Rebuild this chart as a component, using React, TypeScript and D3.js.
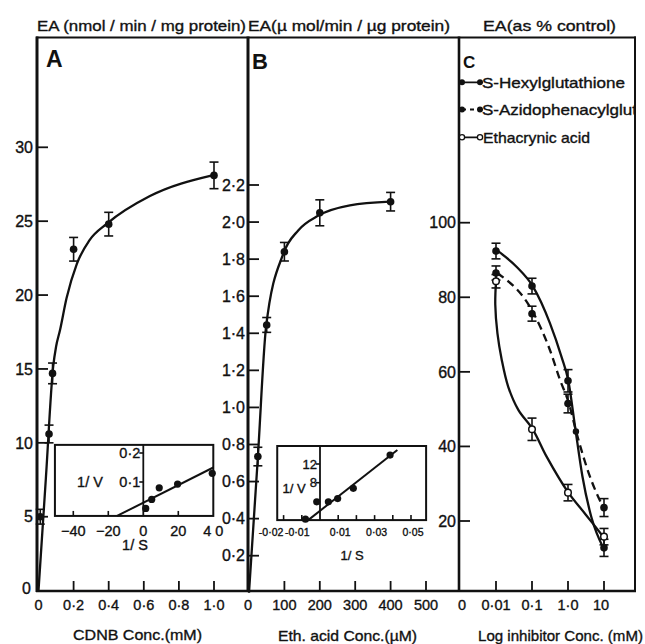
import React from "react";
import * as d3 from "d3";

const FONT = "'Liberation Sans', Arial, Helvetica, sans-serif";

// ---------- Panel A : CDNB ----------
const aConc = [0.01, 0.06, 0.08, 0.2, 0.4, 1.0];
const aActivity = [5.0, 10.6, 14.7, 23.1, 24.8, 28.1];
const aError = [0.5, 0.6, 0.7, 0.8, 0.8, 0.9];
const aCurveX = [0, 0.042, 0.084, 0.1, 0.122, 0.16, 0.218, 0.29, 0.392, 0.635, 0.99];
const aCurveY = [0, 7.6, 15.2, 16.5, 17.6, 19.8, 22.1, 23.7, 24.85, 26.7, 28.1];
const aTicksX = [0, 0.2, 0.4, 0.6, 0.8, 1.0];
const aTickLabelsX = ["0", "0·2", "0·4", "0·6", "0·8", "1·0"];
const aTicksY = [0, 5, 10, 15, 20, 25, 30];

// inset A (Lineweaver-Burk)
const iaInvS = [1.4, 4.8, 9.1, 19.6, 39.4];
const iaInvV = [0.009, 0.04, 0.08, 0.093, 0.13];
const iaFitX = [-15, 40];
const iaFitY = [-0.017, 0.15];
const iaDomX = [-50.5, 40];
const iaDomY = [-0.017, 0.228];
const iaTicksX = [-40, -20, 0, 20, 40];
const iaTickLabelsX = ["−40", "−20", "0", "20", "4 0"];
const iaTicksY = [0.1, 0.2];
const iaTickLabelsY = ["0·1", "0·2"];

// ---------- Panel B : ethacrynic acid ----------
const bConc = [25, 50, 100, 200, 400];
const bActivity = [0.735, 1.445, 1.84, 2.05, 2.11];
const bError = [0.05, 0.04, 0.05, 0.07, 0.05];
const bCurveX = [0, 25, 48, 97, 139, 196, 285, 398];
const bCurveY = [0, 0.73, 1.43, 1.83, 1.955, 2.035, 2.09, 2.11];
const bTicksX = [0, 100, 200, 300, 400, 500];
const bTicksY = [0.2, 0.4, 0.6, 0.8, 1.0, 1.2, 1.4, 1.6, 1.8, 2.0, 2.2];
const bTickLabelsY = ["0·2", "0·4", "0·6", "0·8", "1·0", "1·2", "1·4", "1·6", "1·8", "2·0", "2·2"];

// inset B
const ibInvS = [-0.008, -0.0018, 0.0046, 0.0097, 0.0183, 0.0385];
const ibInvV = [0.2, 3.9, 3.9, 4.6, 6.8, 13.9];
const ibFitX = [-0.0065, 0.0425];
const ibFitY = [0, 15];
const ibDomX = [-0.0235, 0.0583];
const ibDomY = [0, 15.85];
const ibTicksX = [-0.02, -0.01, 0.01, 0.02, 0.03, 0.04, 0.05];
const ibLabelTicksX = [-0.02, -0.01, 0.01, 0.03, 0.05];
const ibTickLabelsX = ["-0·02", "-0·01", "0·01", "0·03", "0·05"];
const ibTicksY = [8, 12];

// ---------- Panel C : inhibitors ----------
const cLogConc = [-2, -1, 0, 1];
const cTickLabelsX = ["0·01", "0·1", "1·0", "10"];
const cTicksY = [20, 40, 60, 80, 100];
const hexyl = [92.4, 83.0, 57.6, 12.8];
const hexylErr = [2.1, 2.1, 3.0, 2.3];
const azido = [86.5, 75.6, 51.5, 23.6];
const azidoErr = [1.9, 2.0, 2.5, 2.4];
const etha = [84.3, 44.6, 27.6, 15.8];
const ethaErr = [1.8, 3.0, 2.2, 2.2];
const azidoExtraX = [0.22];
const azidoExtraY = [44];
const hexylCurveX = [-1.96, -1.43, -0.98, -0.5, -0.18, 0.01, 0.2, 0.4, 0.65, 0.98];
const hexylCurveY = [92.5, 88.2, 83, 73, 64, 57.6, 45, 32, 21, 12.8];
const azidoCurveX = [-1.97, -0.95, -0.5, -0.22, 0.01, 0.24, 0.61, 0.98];
const azidoCurveY = [86.5, 75.6, 65.8, 57.8, 52, 43.5, 31.9, 23.6];
const ethaCurveX = [-2.0, -2.02, -1.96, -1.84, -1.66, -1.38, -0.98, -0.59, 0.01, 0.495, 0.98];
const ethaCurveY = [84.3, 78, 70.3, 63.2, 56, 49.8, 44.6, 37.2, 27.6, 21.7, 15.8];
const legendNames = ["S-Hexylglutathione", "S-Azidophenacylglut", "Ethacrynic acid"];

const zip = (xs: number[], ys: number[]) => xs.map((x, i) => [x, ys[i]] as [number, number]);

export default function App() {
  const W = 645, H = 644;
  const top = 37.5, bottom = 591;
  const axA = 37, axB = 248, axC = 459, right = 635;

  const xA = d3.scaleLinear().domain([0, 1]).range([38.5, 214]);
  const yA = d3.scaleLinear().domain([0, 30]).range([590.6, 147.3]);
  const xB = d3.scaleLinear().domain([0, 500]).range([249, 426]);
  const yB = d3.scaleLinear().domain([0.2, 2.2]).range([555.7, 185]);
  const xC = d3.scaleLinear().domain([-2, 1]).range([496, 604]);
  const yC = d3.scaleLinear().domain([20, 100]).range([521, 222.7]);
  const xIA = d3.scaleLinear().domain([-40, 40]).range([73.3, 213.3]);
  const yIA = d3.scaleLinear().domain([0.1, 0.2]).range([482, 453]);
  const xIB = d3.scaleLinear().domain([0, 0.05]).range([320, 411]);
  const yIB = d3.scaleLinear().domain([8, 12]).range([482.7, 464]);

  const lineOf = (xs: any, ys: any, curve: any) =>
    d3.line<[number, number]>().x(d => xs(d[0])).y(d => ys(d[1])).curve(curve);

  const aPath = lineOf(xA, yA, d3.curveMonotoneX)(zip(aCurveX, aCurveY)) || "";
  const bPath = lineOf(xB, yB, d3.curveMonotoneX)(zip(bCurveX, bCurveY)) || "";
  const hexPath = lineOf(xC, yC, d3.curveMonotoneX)(zip(hexylCurveX, hexylCurveY)) || "";
  const azPath = lineOf(xC, yC, d3.curveMonotoneX)(zip(azidoCurveX, azidoCurveY)) || "";
  const ethPath = lineOf(xC, yC, d3.curveCatmullRom.alpha(0.5))(zip(ethaCurveX, ethaCurveY)) || "";
  const iaFit = lineOf(xIA, yIA, d3.curveLinear)(zip(iaFitX, iaFitY)) || "";
  const ibFit = lineOf(xIB, yIB, d3.curveLinear)(zip(ibFitX, ibFitY)) || "";

  const ink = "#111";
  const curveW = 2.3;
  const tStroke = { stroke: ink, strokeWidth: 0.35 };

  const errBars = (xs: number[], vs: number[], es: number[], sx: any, sy: any, open = false, key = "") =>
    xs.map((x, i) => {
      const cx = sx(x), cy = sy(vs[i]);
      const y1 = sy(vs[i] - es[i]), y2 = sy(vs[i] + es[i]);
      return (
        <g key={key + i}>
          <line x1={cx} x2={cx} y1={y1} y2={y2} stroke={ink} strokeWidth={1.6} />
          <line x1={cx - 4.5} x2={cx + 4.5} y1={y1} y2={y1} stroke={ink} strokeWidth={1.6} />
          <line x1={cx - 4.5} x2={cx + 4.5} y1={y2} y2={y2} stroke={ink} strokeWidth={1.6} />
          <circle cx={cx} cy={cy} r={open ? 3.3 : 3.8} fill={open ? "#fff" : ink} stroke={ink} strokeWidth={open ? 1.5 : 0} />
        </g>
      );
    });

  const yTickLabel = (x: number, y: number, t: string, key: string, size = 16) => (
    <text key={key} x={x} y={y} dy="0.36em" textAnchor="end" fontSize={size} fontFamily={FONT} fill={ink} {...tStroke}>{t}</text>
  );

  const iaX0 = xIA(iaDomX[0]), iaX1 = xIA(iaDomX[1]);
  const iaY0 = yIA(iaDomY[1]), iaY1 = yIA(iaDomY[0]);
  const ibX0 = xIB(ibDomX[0]), ibX1 = xIB(ibDomX[1]);
  const ibY0 = yIB(ibDomY[1]), ibY1 = yIB(ibDomY[0]);

  const legendY = [82.3, 109.5, 137.3];
  const ibLabelDx = (v: number) => (v <= -0.02 ? -12.5 : v < 0 ? -4.5 : 2);

  return (
    <svg width={W} height={H} viewBox={`0 0 ${W} ${H}`}
      style={{ position: "absolute", left: 0, top: 0, display: "block", background: "#fff" }}>
      <defs>
        <clipPath id="clipC"><rect x={axC} y={top} width={right - axC - 1} height={bottom - top} /></clipPath>
      </defs>
      <rect x={0} y={0} width={W} height={H} fill="#fff" />

      {/* headers */}
      <text x={37} y={31} fontSize={15} fontFamily={FONT} fill={ink} {...tStroke} textLength={209} lengthAdjust="spacingAndGlyphs">EA (nmol / min / mg protein)</text>
      <text x={248} y={31} fontSize={15} fontFamily={FONT} fill={ink} {...tStroke} textLength={202} lengthAdjust="spacingAndGlyphs">EA(µ mol/min / µg protein)</text>
      <text x={483} y={31} fontSize={15} fontFamily={FONT} fill={ink} {...tStroke} textLength={133} lengthAdjust="spacingAndGlyphs">EA(as % control)</text>

      {/* frame */}
      <line x1={axA - 1} x2={right + 1} y1={top} y2={top} stroke={ink} strokeWidth={2} />
      <line x1={axA - 1} x2={right + 1} y1={bottom} y2={bottom} stroke={ink} strokeWidth={2.6} />
      <line x1={axA} x2={axA} y1={top - 1} y2={bottom + 1} stroke={ink} strokeWidth={3} />
      <line x1={axB} x2={axB} y1={top - 1} y2={bottom + 1} stroke={ink} strokeWidth={3} />
      <line x1={axC} x2={axC} y1={top - 1} y2={bottom + 1} stroke={ink} strokeWidth={2.6} />
      <line x1={right} x2={right} y1={top - 1} y2={bottom + 1} stroke={ink} strokeWidth={2} />

      {/* panel letters */}
      <text x={46} y={67} fontSize={23} fontWeight="bold" fontFamily={FONT} fill={ink}>A</text>
      <text x={252} y={69} fontSize={22} fontWeight="bold" fontFamily={FONT} fill={ink}>B</text>
      <text x={463} y={68} fontSize={17} fontWeight="bold" fontFamily={FONT} fill={ink}>C</text>

      {/* y ticks & labels */}
      {aTicksY.map(v => (
        <g key={"ay" + v}>
          {v !== 0 && <line x1={axA} x2={axA + 11} y1={yA(v)} y2={yA(v)} stroke={ink} strokeWidth={1.8} />}
          {yTickLabel(v === 0 ? 31 : 33, yA(v) - (v === 0 ? 2 : 0), String(v), "ayl" + v)}
        </g>
      ))}
      {bTicksY.map((v, i) => (
        <g key={"by" + i}>
          <line x1={axB} x2={axB + 11} y1={yB(v)} y2={yB(v)} stroke={ink} strokeWidth={1.8} />
          {yTickLabel(245, yB(v), bTickLabelsY[i], "byl" + i)}
        </g>
      ))}
      {cTicksY.map(v => (
        <g key={"cy" + v}>
          <line x1={axC} x2={axC + 11} y1={yC(v)} y2={yC(v)} stroke={ink} strokeWidth={1.8} />
          {yTickLabel(456, yC(v), String(v), "cyl" + v)}
        </g>
      ))}

      {/* x ticks & labels */}
      {aTicksX.map((v, i) => (
        <g key={"ax" + i}>
          {v !== 0 && <line x1={xA(v)} x2={xA(v)} y1={bottom} y2={bottom - 10} stroke={ink} strokeWidth={1.8} />}
          <text x={xA(v)} y={609.5} textAnchor="middle" fontSize={14.5} fontFamily={FONT} fill={ink} {...tStroke}>{aTickLabelsX[i]}</text>
        </g>
      ))}
      {bTicksX.map(v => (
        <g key={"bx" + v}>
          {v !== 0 && <line x1={xB(v)} x2={xB(v)} y1={bottom} y2={bottom - 10} stroke={ink} strokeWidth={1.8} />}
          <text x={xB(v) - (v === 0 ? 1 : 0)} y={609.5} textAnchor="middle" fontSize={14.5} fontFamily={FONT} fill={ink} {...tStroke}>{String(v)}</text>
        </g>
      ))}
      <text x={xC(-3) + 2} y={609.5} textAnchor="middle" fontSize={14.5} fontFamily={FONT} fill={ink} {...tStroke}>0</text>
      {cLogConc.map((v, i) => (
        <g key={"cx" + i}>
          <line x1={xC(v)} x2={xC(v)} y1={bottom} y2={bottom - 10} stroke={ink} strokeWidth={1.8} />
          <text x={xC(v) - (i === 3 ? 3 : 0)} y={609.5} textAnchor="middle" fontSize={14.5} fontFamily={FONT} fill={ink} {...tStroke}>{cTickLabelsX[i]}</text>
        </g>
      ))}

      {/* axis titles */}
      <text x={73} y={640} fontSize={15} fontFamily={FONT} fill={ink} {...tStroke} textLength={129} lengthAdjust="spacingAndGlyphs">CDNB Conc.(mM)</text>
      <text x={278} y={641} fontSize={15} fontFamily={FONT} fill={ink} {...tStroke} textLength={139} lengthAdjust="spacingAndGlyphs">Eth. acid Conc.(µM)</text>
      <text x={478} y={641} fontSize={15} fontFamily={FONT} fill={ink} {...tStroke} textLength={165} lengthAdjust="spacingAndGlyphs">Log inhibitor Conc. (mM)</text>

      {/* Panel A curve & points */}
      <path d={aPath} fill="none" stroke={ink} strokeWidth={curveW} />
      {errBars(aConc, aActivity, aError, xA, yA, false, "a")}

      {/* Inset A */}
      <rect x={iaX0} y={iaY0} width={iaX1 - iaX0} height={iaY1 - iaY0} fill="#fff" stroke={ink} strokeWidth={2} />
      <line x1={xIA(0)} x2={xIA(0)} y1={iaY0} y2={iaY1} stroke={ink} strokeWidth={1.8} />
      {iaTicksX.filter(v => v !== 0 && v !== 40).map(v => (
        <line key={"iat" + v} x1={xIA(v)} x2={xIA(v)} y1={iaY1} y2={iaY1 - 5} stroke={ink} strokeWidth={1.6} />
      ))}
      {iaTicksX.map((v, i) => (
        <text key={"iatl" + v} x={xIA(v)} y={535.5} textAnchor="middle" fontSize={14.5} fontFamily={FONT} fill={ink} {...tStroke}>{iaTickLabelsX[i]}</text>
      ))}
      {iaTicksY.map((v, i) => (
        <g key={"iay" + i}>
          <line x1={xIA(0) - 4} x2={xIA(0)} y1={yIA(v)} y2={yIA(v)} stroke={ink} strokeWidth={1.6} />
          {yTickLabel(xIA(0) - 3, yIA(v), iaTickLabelsY[i], "iayl" + i, 14.5)}
        </g>
      ))}
      <text x={90} y={482} dy="0.36em" textAnchor="middle" fontSize={14.5} fontFamily={FONT} fill={ink} {...tStroke}>1/ V</text>
      <text x={135} y={545} dy="0.36em" textAnchor="middle" fontSize={14.5} fontFamily={FONT} fill={ink} {...tStroke}>1/ S</text>
      <path d={iaFit} fill="none" stroke={ink} strokeWidth={2} />
      {iaInvS.map((x, i) => (
        <circle key={"iap" + i} cx={xIA(x)} cy={yIA(iaInvV[i])} r={3.6} fill={ink} />
      ))}

      {/* Panel B curve & points */}
      <path d={bPath} fill="none" stroke={ink} strokeWidth={curveW} />
      {errBars(bConc, bActivity, bError, xB, yB, false, "b")}

      {/* Inset B */}
      <rect x={ibX0} y={ibY0} width={ibX1 - ibX0} height={ibY1 - ibY0} fill="#fff" stroke={ink} strokeWidth={2} />
      <line x1={xIB(0)} x2={xIB(0)} y1={ibY0} y2={ibY1} stroke={ink} strokeWidth={1.8} />
      {ibTicksX.map(v => (
        <line key={"ibt" + v} x1={xIB(v)} x2={xIB(v)} y1={ibY1} y2={ibY1 - 5} stroke={ink} strokeWidth={1.6} />
      ))}
      {ibLabelTicksX.map((v, i) => (
        <text key={"ibtl" + i} x={xIB(v) + ibLabelDx(v)} y={536} textAnchor="middle" fontSize={10.5} fontFamily={FONT} fill={ink} {...tStroke}>{ibTickLabelsX[i]}</text>
      ))}
      {ibTicksY.map(v => (
        <g key={"iby" + v}>
          <line x1={xIB(0) - 4} x2={xIB(0)} y1={yIB(v)} y2={yIB(v)} stroke={ink} strokeWidth={1.6} />
          {yTickLabel(xIB(0) - 3, yIB(v), String(v), "ibyl" + v, 13)}
        </g>
      ))}
      <text x={294} y={488} dy="0.36em" textAnchor="middle" fontSize={13} fontFamily={FONT} fill={ink} {...tStroke}>1/ V</text>
      <text x={352} y={555} dy="0.36em" textAnchor="middle" fontSize={13} fontFamily={FONT} fill={ink} {...tStroke}>1/ S</text>
      <path d={ibFit} fill="none" stroke={ink} strokeWidth={2} />
      {ibInvS.map((x, i) => (
        <circle key={"ibp" + i} cx={xIB(x)} cy={yIB(ibInvV[i])} r={3.6} fill={ink} />
      ))}

      {/* Panel C */}
      <path d={hexPath} fill="none" stroke={ink} strokeWidth={curveW} />
      <path d={azPath} fill="none" stroke={ink} strokeWidth={curveW} strokeDasharray="8 5" />
      <path d={ethPath} fill="none" stroke={ink} strokeWidth={curveW} />
      {errBars(cLogConc, hexyl, hexylErr, xC, yC, false, "h")}
      {errBars(cLogConc, azido, azidoErr, xC, yC, false, "z")}
      {errBars(cLogConc, etha, ethaErr, xC, yC, true, "e")}
      {azidoExtraX.map((x, i) => (
        <circle key={"zx" + i} cx={xC(x)} cy={yC(azidoExtraY[i])} r={3.2} fill={ink} />
      ))}

      {/* legend */}
      <g clipPath="url(#clipC)">
        {legendNames.map((name, i) => {
          const y = legendY[i];
          const open = i === 2;
          return (
            <g key={"lg" + i}>
              <line x1={462} x2={480} y1={y} y2={y} stroke={ink} strokeWidth={1.8} strokeDasharray={i === 1 ? "4 4" : undefined} />
              <circle cx={462} cy={y} r={open ? 2.6 : 3} fill={open ? "#fff" : ink} stroke={ink} strokeWidth={open ? 1.3 : 0} />
              <circle cx={480} cy={y} r={open ? 2.6 : 3} fill={open ? "#fff" : ink} stroke={ink} strokeWidth={open ? 1.3 : 0} />
              <text x={i === 2 ? 483 : 482} y={y + 5.3} fontSize={15} fontFamily={FONT} fill={ink} {...tStroke}
                textLength={i === 0 ? 143 : i === 1 ? 155 : 107} lengthAdjust="spacingAndGlyphs">{name}</text>
            </g>
          );
        })}
      </g>
    </svg>
  );
}
